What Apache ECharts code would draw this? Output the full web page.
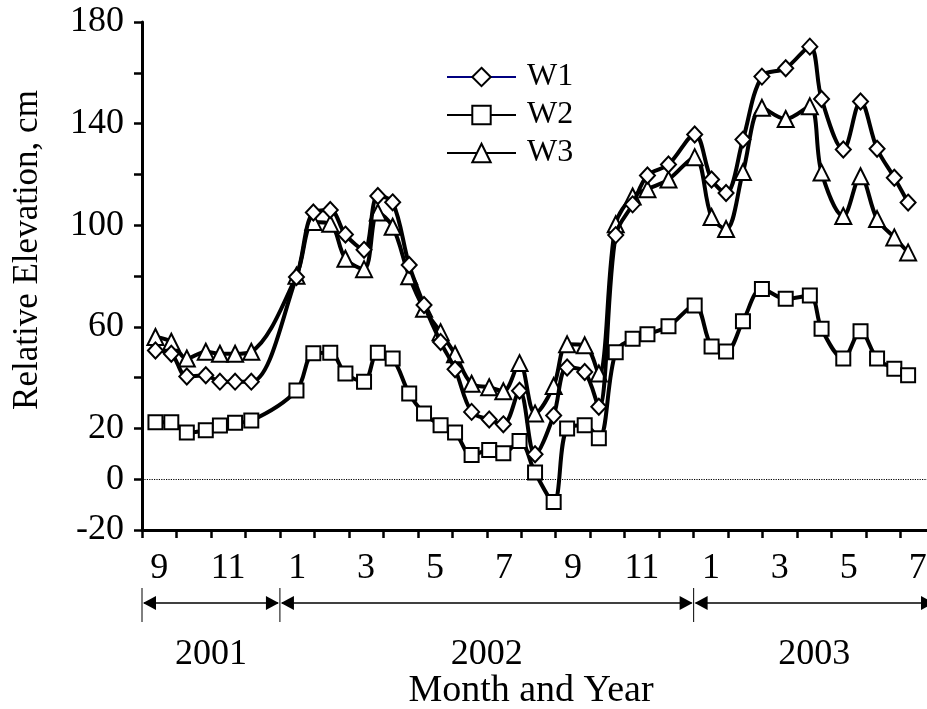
<!DOCTYPE html>
<html><head><meta charset="utf-8">
<script src="https://cdn.jsdelivr.net/npm/echarts@6/dist/echarts.min.js"></script>
<style>html,body{margin:0;padding:0;background:#fff}#c{width:927px;height:709px}</style>
</head><body><div id="c"></div>
<script>
// Sampling times, in months after 1 Sep 2001 (0 = start of Sep 2001)
const sampleMonth = [0.39,0.85,1.30,1.85,2.26,2.70,3.17,4.48,4.97,5.46,5.90,6.44,6.84,7.27,7.75,8.18,8.66,9.08,9.56,10.07,10.48,10.95,11.40,11.94,12.33,12.84,13.25,13.74,14.23,14.66,15.27,16.03,16.52,16.94,17.43,17.98,18.67,19.37,19.71,20.34,20.84,21.32,21.82,22.22];
const w1 = [50.7,49.4,40.4,40.9,38.4,38.4,38.4,79.6,105.0,106.0,96.3,90.3,111.5,109.0,84.3,68.6,54.0,43.3,26.5,23.5,21.6,34.8,9.8,25.1,44.0,42.2,28.5,96.1,108.2,119.6,123.9,135.7,118.0,112.7,133.7,158.5,161.8,170.3,149.7,129.8,148.7,130.1,118.7,108.9];
const w2 = [22.4,22.4,18.4,19.3,21.1,22.2,23.1,34.9,49.6,49.8,41.6,38.4,49.8,47.5,33.7,25.9,21.2,18.4,9.5,11.5,10.2,15.0,2.6,-9.0,20.0,21.2,16.1,50.0,55.3,57.1,60.2,68.4,52.2,50.3,62.2,74.9,71.0,72.3,59.2,47.5,58.2,47.5,43.5,40.9];
const w3 = [56.0,54.1,47.5,50.2,49.4,49.4,50.2,80.1,101.3,100.6,86.8,82.7,105.0,99.4,79.9,67.1,57.9,49.2,37.6,36.2,34.6,45.7,25.9,36.7,53.1,52.7,41.6,100.4,111.3,114.2,118.0,126.8,103.2,98.5,120.9,146.2,141.8,146.8,120.7,103.6,119.3,102.4,95.2,89.3];
const monthLabels = ['9','10','11','12','1','2','3','4','5','6','7','8','9','10','11','12','1','2','3','4','5','6','7'];
const yTickLabels = [-20,0,20,60,100,140,180];
const yearLabels = ['2001','2002','2003'];
const yearBounds = [0,4,16,23];

const FONT = 'Liberation Serif';
const chart = echarts.init(document.getElementById('c'), null, {renderer:'canvas'});
const pts = arr => sampleMonth.map((m,i)=>[m, arr[i]]);
const lineSeries = (name, data, symbol, size, z) => ({
  name, type:'line', data: pts(data), smooth:0.35, symbol, symbolSize:size, showSymbol:true,
  itemStyle:{color:'#fff', borderColor:'#000', borderWidth:2},
  lineStyle:{color:'#000', width:4}, z, emphasis:{disabled:true}, animation:false
});

const option = {
  animation:false,
  backgroundColor:'#fff',
  grid:{left:142, top:22, width:793, height:508, containLabel:false, outerBoundsMode:'none'},
  xAxis:[
    {type:'value', min:0, max:23, interval:1, position:'bottom',
     axisLine:{show:true, onZero:false, lineStyle:{color:'#000', width:3}},
     axisTick:{show:true, inside:false, length:8, lineStyle:{color:'#000', width:2.5}},
     axisLabel:{show:false}, splitLine:{show:false}},
    {type:'category', data:monthLabels, boundaryGap:true, position:'bottom', gridIndex:0,
     axisLine:{show:false}, axisTick:{show:false}, splitLine:{show:false},
     axisLabel:{show:true, interval:1, margin:21, color:'#000', fontFamily:FONT, fontSize:36}}
  ],
  yAxis:{type:'value', min:-20, max:180, interval:20,
    axisLine:{show:true, lineStyle:{color:'#000', width:3}},
    axisTick:{show:true, inside:false, length:8, lineStyle:{color:'#000', width:2.5}},
    splitLine:{show:false},
    axisLabel:{show:true, margin:18, color:'#000', fontFamily:FONT, fontSize:36,
      formatter: v => yTickLabels.includes(v) ? String(v) : ''}},
  legend:{orient:'vertical', left:441, top:56, itemWidth:69, itemHeight:23, itemGap:6,
    data:[{name:'W1', lineStyle:{color:'#000080'}}, 'W2', 'W3'],
    textStyle:{fontFamily:FONT, fontSize:32, color:'#000', padding:[0,0,0,6]}},
  series:[
    Object.assign(lineSeries('W2', w2, 'rect', 14, 2), {markLine:{silent:true, symbol:['none','none'], label:{show:false},
      lineStyle:{type:'dotted', color:'#000', width:1.2}, data:[{yAxis:0}], animation:false}}),
    lineSeries('W3', w3, 'triangle', 16, 3),
    lineSeries('W1', w1, 'diamond', [15,16], 4)
  ]
};
chart.setOption(option);

const px = v => chart.convertToPixel({xAxisIndex:0}, v);
const yArrow = 603, g = [];
for (let i = 0; i < yearLabels.length; i++) {
  const a = px(yearBounds[i]), b = px(yearBounds[i+1]);
  g.push({type:'line', shape:{x1:a+2, y1:yArrow, x2:b-2, y2:yArrow}, style:{stroke:'#000', lineWidth:1.5}});
  g.push({type:'polygon', shape:{points:[[a+1,yArrow],[a+14,yArrow-7],[a+14,yArrow+7]]}, style:{fill:'#000'}});
  g.push({type:'polygon', shape:{points:[[b-1,yArrow],[b-14,yArrow-7],[b-14,yArrow+7]]}, style:{fill:'#000'}});
  g.push({type:'line', shape:{x1:a, y1:588, x2:a, y2:622}, style:{stroke:'#000', lineWidth:1}});
  g.push({type:'text', x:(a+b)/2, y:655, style:{text:yearLabels[i], fill:'#000', font:'36px "Liberation Serif"', textAlign:'center', textVerticalAlign:'middle'}});
}
g.push({type:'text', x:531, y:691, style:{text:'Month and Year', fill:'#000', font:'38px "Liberation Serif"', textAlign:'center', textVerticalAlign:'middle'}});
g.push({type:'text', x:28, y:250, rotation:Math.PI/2, style:{text:'Relative Elevation, cm', fill:'#000', font:'35px "Liberation Serif"', textAlign:'center', textVerticalAlign:'middle'}});
chart.setOption({graphic:g});
</script></body></html>
